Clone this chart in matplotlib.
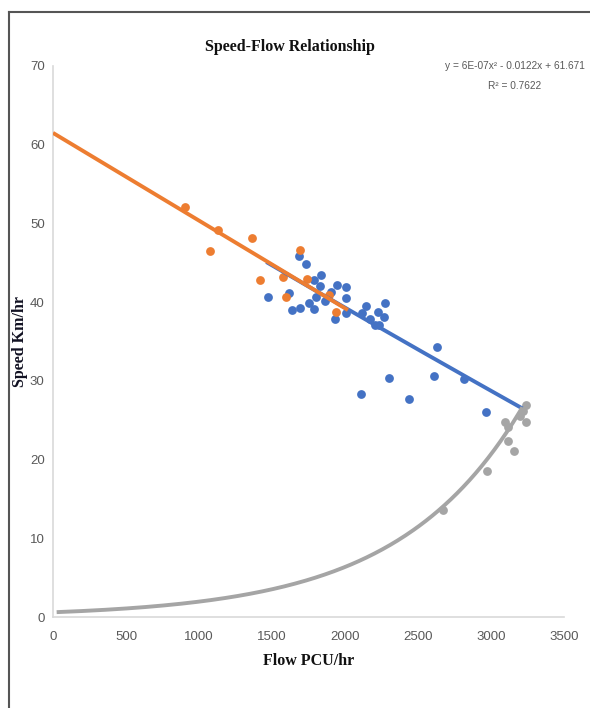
import numpy as np
import matplotlib
matplotlib.use('Agg')
import matplotlib.pyplot as plt
from matplotlib.lines import Line2D

# datos
blue_x = [1470, 1619, 1637, 1688, 1693, 1734, 1752, 1787, 1791, 1803, 1826, 1837,
          1860, 1906, 1929, 1945, 2005, 2010, 2010, 2115, 2147, 2173, 2205, 2228,
          2234, 2269, 2274, 2113, 2303, 2441, 2613, 2630, 2818, 2963]
blue_y = [40.7, 41.1, 39.0, 45.8, 39.2, 44.9, 39.9, 39.1, 42.8, 40.7, 42.0, 43.4,
          40.1, 41.3, 37.8, 42.2, 41.9, 40.5, 38.6, 38.6, 39.5, 37.8, 37.1, 38.8,
          37.1, 38.1, 39.9, 28.3, 30.3, 27.7, 30.6, 34.3, 30.2, 26.0]

orange_x = [903, 1130, 1075, 1364, 1419, 1578, 1598, 1691, 1743, 1888, 1936]
orange_y = [52.1, 49.2, 46.5, 48.2, 42.8, 43.2, 40.7, 46.6, 42.9, 40.9, 38.7]

grey_x = [2673, 2970, 3118, 3160, 3096, 3118, 3242, 3242, 3220, 3200]
grey_y = [13.6, 18.6, 22.3, 21.1, 24.8, 24.2, 24.8, 26.9, 26.2, 25.5]

# lineas de tendencia
blue_fit = [1.25e-7, -0.01119, 61.18]      # polinomica
blue_range = [1461, 3215]
orange_fit = [-0.01114, 61.5]              # lineal
orange_range = [0, 2020]
grey_fit = [0.6, 0.00118]                  # exponencial
grey_range = [25, 3215]

x_ticks = [0, 500, 1000, 1500, 2000, 2500, 3000, 3500]
y_ticks = [0, 10, 20, 30, 40, 50, 60, 70]

BLUE = '#4472C4'
ORANGE = '#ED7D31'
GREY = '#A5A5A5'
TXT = '#595959'
sans = ['Liberation Sans', 'DejaVu Sans']
serif = ['Liberation Serif', 'DejaVu Serif']

fig = plt.figure(figsize=(5.9, 7.08), dpi=100)
ax = fig.add_axes([53 / 590, 91 / 708, 511 / 590, 551 / 708])

ax.scatter(blue_x, blue_y, s=40, color=BLUE, zorder=3, linewidths=0)
ax.scatter(orange_x, orange_y, s=40, color=ORANGE, zorder=4, linewidths=0)
ax.scatter(grey_x, grey_y, s=40, color=GREY, zorder=3, linewidths=0)

xb = np.linspace(blue_range[0], blue_range[1], 200)
ax.plot(xb, np.polyval(blue_fit, xb), color=BLUE, lw=2.8, zorder=5, solid_capstyle='butt')
xo = np.linspace(orange_range[0], orange_range[1], 200)
ax.plot(xo, np.polyval(orange_fit, xo), color=ORANGE, lw=2.8, zorder=6, solid_capstyle='butt')
xg = np.linspace(grey_range[0], grey_range[1], 300)
ax.plot(xg, grey_fit[0] * np.exp(grey_fit[1] * xg), color=GREY, lw=2.8, zorder=5,
        solid_capstyle='butt')

ax.set_xlim(0, 3500)
ax.set_ylim(0, 70)
ax.set_xticks(x_ticks)
ax.set_yticks(y_ticks)
ax.tick_params(length=0, colors=TXT, labelsize=9.5)
ax.tick_params(axis='x', pad=10)
ax.tick_params(axis='y', pad=6)
for lab in ax.get_xticklabels() + ax.get_yticklabels():
    lab.set_family(sans)

for side in ['top', 'right']:
    ax.spines[side].set_visible(False)
for side in ['left', 'bottom']:
    ax.spines[side].set_color('#D9D9D9')
    ax.spines[side].set_linewidth(1.2)

ax.set_xlabel('Flow PCU/hr', family=serif, fontweight='bold', fontsize=11.5,
              color='#111111', labelpad=7)
ax.set_ylabel('Speed Km/hr', family=serif, fontweight='bold', fontsize=11.5,
              color='#111122', labelpad=1)

fig.text(290 / 590, 1 - 47 / 708, 'Speed-Flow Relationship', family=serif,
         fontweight='bold', fontsize=11.5, ha='center', va='center', color='#111111')

fig.text(515 / 590, 1 - 66 / 708, 'y = 6E-07x² - 0.0122x + 61.671', family=sans,
         fontsize=7.3, ha='center', va='center', color=TXT)
fig.text(515 / 590, 1 - 86 / 708, 'R² = 0.7622', family=sans,
         fontsize=7.3, ha='center', va='center', color=TXT)

# marco exterior
fig.add_artist(Line2D([9 / 590, 1], [1 - 12 / 708, 1 - 12 / 708],
                      transform=fig.transFigure, color='#555555', lw=1.5))
fig.add_artist(Line2D([9 / 590, 9 / 590], [0, 1 - 12 / 708],
                      transform=fig.transFigure, color='#555555', lw=1.5))

fig.savefig('out.png', dpi=100)
plt.close()
